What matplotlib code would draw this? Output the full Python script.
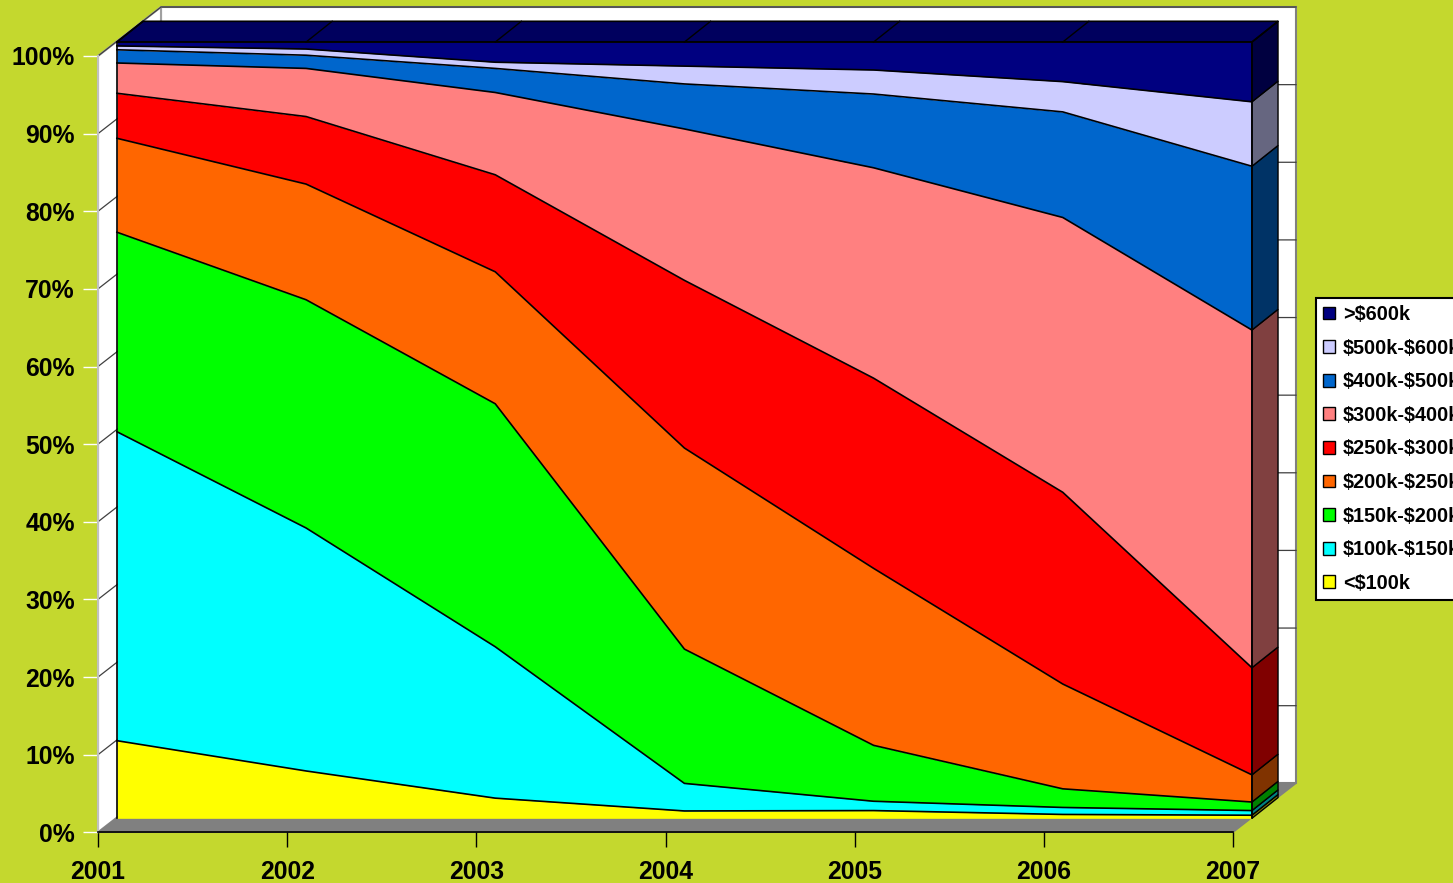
import numpy as np
import matplotlib
matplotlib.use('Agg')
import matplotlib.pyplot as plt
from matplotlib.patches import Polygon, Patch

years = ['2001', '2002', '2003', '2004', '2005', '2006', '2007']
labels = [r'<\$100k', r'\$100k-\$150k', r'\$150k-\$200k', r'\$200k-\$250k', r'\$250k-\$300k',
          r'\$300k-\$400k', r'\$400k-\$500k', r'\$500k-\$600k', r'>\$600k']

# share of sales per price band (%)
under_100k = [10.0, 6.1, 2.6, 0.95, 1.0, 0.5, 0.4]
k100_150 = [39.8, 31.3, 19.5, 3.55, 1.2, 0.9, 0.6]
k150_200 = [25.7, 29.4, 31.3, 17.3, 7.2, 2.4, 1.1]
k200_250 = [12.1, 14.9, 17.0, 25.9, 22.8, 13.5, 3.5]
k250_300 = [5.8, 8.7, 12.5, 21.6, 24.5, 24.7, 13.8]
k300_400 = [3.9, 6.2, 10.6, 19.5, 27.1, 35.4, 43.5]
k400_500 = [1.7, 1.7, 3.1, 5.8, 9.5, 13.6, 21.1]
k500_600 = [0.5, 0.8, 0.8, 2.3, 3.1, 3.9, 8.3]
over_600k = [0.5, 0.9, 2.6, 3.1, 3.6, 5.1, 7.7]

colors = ['#FFFF00', '#00FFFF', '#00FF00', '#FF6600', '#FF0000',
          '#FF8080', '#0066CC', '#CCCCFF', '#000080']
side_colors = ['#808000', '#008080', '#008000', '#803300', '#800000',
               '#804040', '#003366', '#666680', '#000040']

plt.rcParams['font.family'] = ['Liberation Sans', 'DejaVu Sans']
plt.rcParams['font.weight'] = 'bold'

bg = '#C4D82E'
fig = plt.figure(figsize=(14.53, 8.83), dpi=100, facecolor=bg)
ax = fig.add_axes([0.06745, 0.05742, 0.78114, 0.87916])
ax.set_xlim(0, 6)
ax.set_ylim(0, 100)
ax.patch.set_visible(False)

x = np.arange(len(years))
shares = np.array([under_100k, k100_150, k150_200, k200_250, k250_300,
                   k300_400, k400_500, k500_600, over_600k])
shares = shares / shares.sum(axis=0) * 100
tops = np.cumsum(shares, axis=0)
bottoms = tops - shares

# fake 3d depth offsets (data units)
fdx, fdy = 0.100, 1.80   # front of the area slab
bdx, bdy = 0.238, 4.47   # back of the area slab
wdx, wdy = 0.333, 6.31   # back wall
xe = x[-1]

# walls and floor
ax.add_patch(Polygon([(wdx, wdy), (xe + wdx, wdy), (xe + wdx, 100 + wdy), (wdx, 100 + wdy)],
                     closed=True, fc='white', ec='#808080', lw=1.5, clip_on=False, zorder=0.5))
ax.add_patch(Polygon([(0, 0), (wdx, wdy), (wdx, 100 + wdy), (0, 100)],
                     closed=True, fc='white', ec='#A0A0A0', lw=1.5, clip_on=False, zorder=0.6))
ax.add_patch(Polygon([(0, 0), (xe, 0), (xe + wdx, wdy), (wdx, wdy)],
                     closed=True, fc='#808080', ec='#808080', lw=1, clip_on=False, zorder=0.7))
for v in range(10, 101, 10):
    ax.plot([0, wdx, xe + wdx], [v, v + wdy, v + wdy], color='#404040', lw=0.9,
            clip_on=False, zorder=0.8)

# stacked areas, front face + right side face
for i in range(len(labels)):
    ax.fill_between(x + fdx, bottoms[i] + fdy, tops[i] + fdy, color=colors[i], lw=0,
                    clip_on=False, zorder=2)
    ax.plot(x + fdx, tops[i] + fdy, color='black', lw=1.2, clip_on=False, zorder=2.2)
    lo, hi = bottoms[i, -1], tops[i, -1]
    side = [(xe + fdx, lo + fdy), (xe + bdx, lo + bdy), (xe + bdx, hi + bdy), (xe + fdx, hi + fdy)]
    ax.add_patch(Polygon(side, closed=True, fc=side_colors[i], ec='black', lw=1,
                         clip_on=False, zorder=2.1))

# top face of the top series
ax.add_patch(Polygon([(fdx, 100 + fdy), (xe + fdx, 100 + fdy), (xe + bdx, 100 + bdy), (bdx, 100 + bdy)],
                     closed=True, fc='#00005E', ec='black', lw=1.2, clip_on=False, zorder=2.1))
for xi in x:
    ax.plot([xi + fdx, xi + bdx], [100 + fdy, 100 + bdy], color='black', lw=1,
            clip_on=False, zorder=2.3)
ax.plot([fdx, fdx], [fdy, 100 + fdy], color='black', lw=1.2, clip_on=False, zorder=2.3)
ax.plot([xe + fdx, xe + fdx], [fdy, 100 + fdy], color='black', lw=1.2, clip_on=False, zorder=2.3)

# axes
for s in ['top', 'right']:
    ax.spines[s].set_visible(False)
ax.spines['left'].set_color('#C0C0C0')
ax.spines['left'].set_linewidth(1.5)
ax.spines['bottom'].set_color('black')
ax.spines['bottom'].set_linewidth(1.2)
ax.set_xticks(x)
ax.set_xticklabels(years)
ax.set_yticks(range(0, 101, 10))
ax.set_yticklabels(['{}%'.format(v) for v in range(0, 101, 10)])
ax.tick_params(axis='y', length=10.8, width=1, color='white', pad=5.8, labelsize=17.8)
ax.tick_params(axis='x', length=10.8, width=1, color='black', pad=9.5, labelsize=17.8)

handles = [Patch(fc=colors[i], ec='black', lw=1) for i in reversed(range(len(labels)))]
leg = fig.legend(handles, labels[::-1], loc='upper left',
                 bbox_to_anchor=(1316 / 1453, 1 - 298 / 883), borderaxespad=0,
                 frameon=True, fancybox=False, edgecolor='black', framealpha=1,
                 prop={'size': 14.3, 'weight': 'bold'}, handlelength=0.62, handleheight=0.62,
                 handletextpad=0.38, labelspacing=0.735, borderpad=0.35)
leg.get_frame().set_linewidth(1.5)

fig.savefig('out.png', dpi=100, facecolor=bg)
